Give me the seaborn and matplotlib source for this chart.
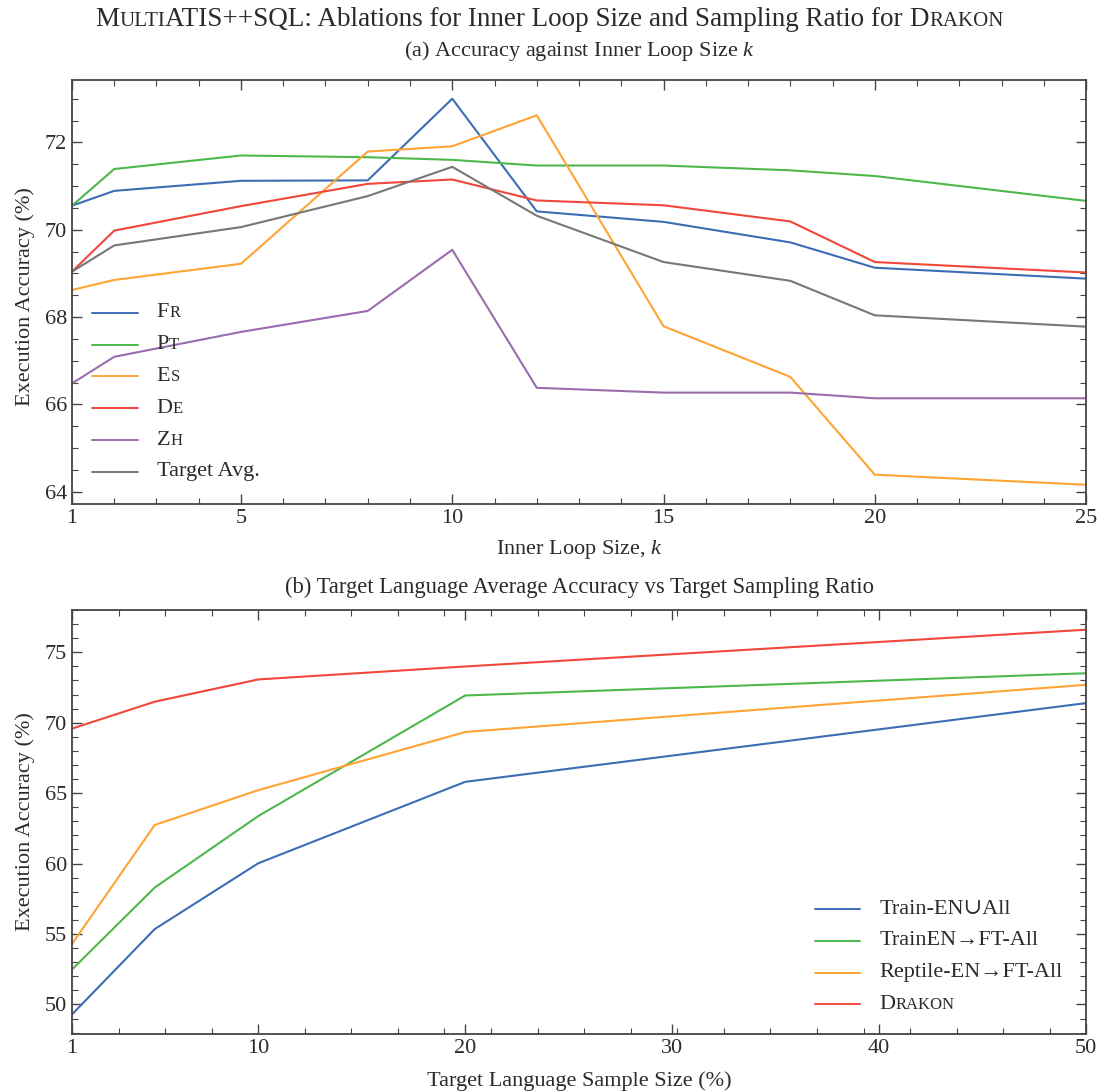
import numpy as np
import matplotlib
matplotlib.use("Agg")
import matplotlib.pyplot as plt
import seaborn as sns
from matplotlib.lines import Line2D
from matplotlib.ticker import FixedLocator, MultipleLocator
from matplotlib.offsetbox import AnchoredOffsetbox, HPacker, VPacker, TextArea, DrawingArea

# (a) inner loop size ablation
k_values = [1, 2, 5, 8, 10, 12, 15, 18, 20, 25]
fr_acc = [70.55, 70.89, 71.12, 71.13, 73.00, 70.42, 70.18, 69.71, 69.13, 68.88]
pt_acc = [70.55, 71.39, 71.70, 71.66, 71.60, 71.47, 71.47, 71.36, 71.23, 70.66]
es_acc = [68.62, 68.85, 69.22, 71.79, 71.91, 72.62, 67.79, 66.63, 64.39, 64.16]
de_acc = [69.04, 69.98, 70.54, 71.05, 71.15, 70.67, 70.56, 70.19, 69.26, 69.02]
zh_acc = [66.48, 67.09, 67.66, 68.14, 69.54, 66.38, 66.27, 66.27, 66.14, 66.14]
avg_acc = [69.04, 69.64, 70.06, 70.77, 71.44, 70.32, 69.26, 68.83, 68.04, 67.78]

# (b) target sampling ratio
sample_sizes = [1, 5, 10, 20, 50]
train_union = [49.29, 55.35, 60.02, 65.80, 71.39]
train_ft = [52.48, 58.30, 63.37, 71.93, 73.51]
reptile_ft = [54.29, 62.74, 65.21, 69.34, 72.69]
drakon = [69.58, 71.49, 73.07, 73.99, 76.60]

BLUE, GREEN, ORANGE = "#3b6db5", "#4cb84c", "#ffa433"
RED, PURPLE, GRAY = "#f0473a", "#9a6cae", "#777777"
TXT = "#2b2b2b"

sns.set_theme(style="ticks")
FONTS = ["Liberation Serif", "DejaVu Serif"]
plt.rcParams["font.family"] = FONTS
plt.rcParams["mathtext.fontset"] = "custom"
plt.rcParams["mathtext.rm"] = "Liberation Serif"
plt.rcParams["mathtext.it"] = "Liberation Serif:italic"

BIG, SMALL = 16, 12


def sc_text(pieces, color=TXT):
    # fake small caps: pieces of (text, size)
    kids = [TextArea(t, textprops=dict(size=s, color=color, family=FONTS)) for t, s in pieces]
    return HPacker(children=kids, align="baseline", pad=0, sep=0)


def add_legend(ax, entries, anchor, line_len=33, gap=13.5, row_sep=9.2):
    rows = []
    for pieces, color in entries:
        da = DrawingArea(line_len, 8, 0, 0)
        da.add_artist(Line2D([0, line_len], [4, 4], color=color, lw=1.4))
        rows.append(HPacker(children=[da, sc_text(pieces)], align="center", pad=0, sep=gap))
    box = VPacker(children=rows, align="left", pad=0, sep=row_sep)
    ab = AnchoredOffsetbox(loc="upper left", child=box, pad=0, borderpad=0, frameon=False,
                           bbox_to_anchor=anchor, bbox_transform=ax.transAxes)
    ax.add_artist(ab)


def style_axes(ax):
    for sp in ax.spines.values():
        sp.set_color("#444444")
        sp.set_linewidth(1.3)
    ax.tick_params(which="both", direction="in", top=True, right=True,
                   colors="#444444", labelcolor=TXT, labelsize=16)
    ax.tick_params(which="major", length=7, width=1.0)
    ax.tick_params(which="minor", length=4, width=0.8)


fig = plt.figure(figsize=(10.99, 10.92), dpi=100)
ax1 = fig.add_axes([0.0655, 0.5385, 0.9227, 0.3883])
ax2 = fig.add_axes([0.0655, 0.0531, 0.9227, 0.3883])

top_series = [(fr_acc, BLUE), (pt_acc, GREEN), (es_acc, ORANGE),
              (de_acc, RED), (zh_acc, PURPLE), (avg_acc, GRAY)]
for vals, c in top_series:
    sns.lineplot(x=k_values, y=vals, ax=ax1, color=c, linewidth=1.5, legend=False)

ax1.set_xlim(1, 25)
ax1.set_ylim(63.72, 73.43)
ax1.xaxis.set_major_locator(FixedLocator([1, 5, 10, 15, 20, 25]))
ax1.xaxis.set_minor_locator(MultipleLocator(1))
ax1.yaxis.set_major_locator(FixedLocator([64, 66, 68, 70, 72]))
ax1.yaxis.set_minor_locator(MultipleLocator(0.5))
style_axes(ax1)
ax1.set_xlabel("Inner Loop Size, $k$", fontsize=16, color=TXT, labelpad=7)
ax1.set_ylabel("Execution Accuracy (%)", fontsize=16, color=TXT)
ax1.yaxis.set_label_coords(-0.036, 0.49)
ax1.set_title("(a) Accuracy against Inner Loop Size $k$", fontsize=16, color=TXT, pad=17)

add_legend(ax1, [
    ([("F", BIG), ("R", SMALL)], BLUE),
    ([("P", BIG), ("T", SMALL)], GREEN),
    ([("E", BIG), ("S", SMALL)], ORANGE),
    ([("D", BIG), ("E", SMALL)], RED),
    ([("Z", BIG), ("H", SMALL)], PURPLE),
    ([("Target Avg.", BIG)], GRAY),
], anchor=(0.02, 0.473))

bottom_series = [(train_union, BLUE), (train_ft, GREEN), (reptile_ft, ORANGE), (drakon, RED)]
for vals, c in bottom_series:
    sns.lineplot(x=sample_sizes, y=vals, ax=ax2, color=c, linewidth=1.5, legend=False)

ax2.set_xlim(1, 50)
ax2.set_ylim(47.9, 78.0)
ax2.xaxis.set_major_locator(FixedLocator([1, 10, 20, 30, 40, 50]))
ax2.xaxis.set_minor_locator(FixedLocator(np.arange(1, 50, 2.25)))
ax2.yaxis.set_major_locator(FixedLocator([50, 55, 60, 65, 70, 75]))
ax2.yaxis.set_minor_locator(MultipleLocator(1))
style_axes(ax2)
ax2.set_xlabel("Target Language Sample Size (%)", fontsize=16, color=TXT, labelpad=10)
ax2.set_ylabel("Execution Accuracy (%)", fontsize=16, color=TXT)
ax2.yaxis.set_label_coords(-0.036, 0.5)
ax2.set_title("(b) Target Language Average Accuracy vs Target Sampling Ratio",
              fontsize=16.3, color=TXT, pad=12)

add_legend(ax2, [
    ([("Train-EN\u222aAll", BIG)], BLUE),
    ([("TrainEN\u2192FT-All", BIG)], GREEN),
    ([("Reptile-EN\u2192FT-All", BIG)], ORANGE),
    ([("D", BIG), ("RAKON", SMALL)], RED),
], anchor=(0.733, 0.317), line_len=32, gap=14.3)

title = sc_text([("M", 19.5), ("ULTI", 15), ("ATIS++SQL: Ablations for Inner Loop Size and Sampling Ratio for ", 19.5),
                 ("D", 19.5), ("RAKON", 15)])
fig.add_artist(AnchoredOffsetbox(loc="center", child=title, pad=0, borderpad=0, frameon=False,
                                 bbox_to_anchor=(0.5, 1 - 19 / 1092), bbox_transform=fig.transFigure))

fig.savefig("out.png", dpi=100)
